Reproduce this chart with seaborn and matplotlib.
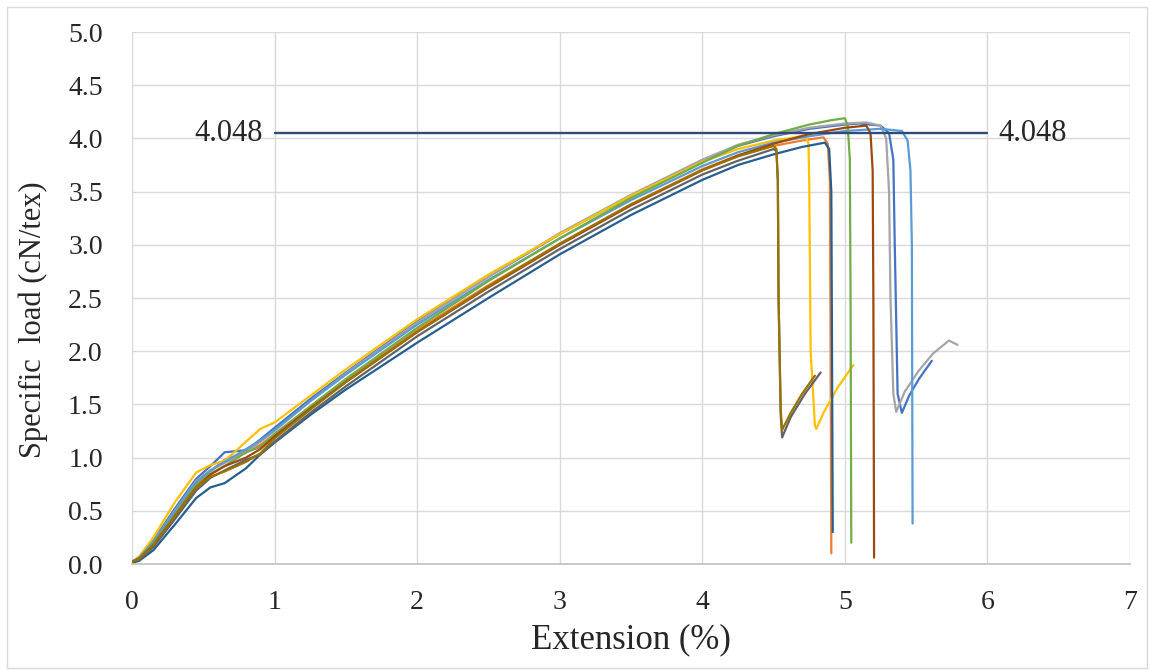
import pandas as pd
import matplotlib.pyplot as plt
import seaborn as sns
from matplotlib.patches import Rectangle

sns.set_style("white")
plt.rcParams["font.family"] = ["Liberation Serif", "DejaVu Serif"]

# Shared extension grid for the rising part of every curve (%)
grid_x = [0, 0.05, 0.15, 0.3, 0.45, 0.55, 0.65, 0.8, 0.9, 1.0, 1.25, 1.5,
          2.0, 2.5, 3.0, 3.5, 4.0, 4.25, 4.5]

# Rising part, specific load (cN/tex)
s1_rise = [0.02, 0.06, 0.22, 0.52, 0.80, 0.92, 1.05, 1.07, 1.17, 1.28, 1.55, 1.80,
           2.28, 2.70, 3.10, 3.46, 3.79, 3.93, 4.02]
s2_rise = [0.02, 0.05, 0.19, 0.47, 0.75, 0.87, 0.98, 1.05, 1.12, 1.22, 1.48, 1.73,
           2.20, 2.62, 3.01, 3.38, 3.71, 3.84, 3.93]
s3_rise = [0.02, 0.06, 0.21, 0.50, 0.78, 0.88, 0.95, 1.05, 1.15, 1.25, 1.53, 1.79,
           2.27, 2.70, 3.11, 3.47, 3.80, 3.94, 4.03]
s4_rise = [0.02, 0.07, 0.25, 0.58, 0.86, 0.93, 0.97, 1.15, 1.27, 1.33, 1.58, 1.83,
           2.30, 2.72, 3.10, 3.46, 3.78, 3.90, 3.98]
s5_rise = [0.02, 0.06, 0.21, 0.49, 0.77, 0.88, 0.96, 1.08, 1.16, 1.26, 1.53, 1.78,
           2.25, 2.67, 3.06, 3.42, 3.74, 3.87, 3.96]
s6_rise = [0.02, 0.05, 0.19, 0.46, 0.74, 0.85, 0.92, 1.05, 1.10, 1.22, 1.48, 1.74,
           2.22, 2.66, 3.06, 3.44, 3.77, 3.93, 4.04]
s7_rise = [0.01, 0.03, 0.13, 0.37, 0.62, 0.72, 0.76, 0.90, 1.03, 1.14, 1.40, 1.64,
           2.08, 2.50, 2.91, 3.28, 3.61, 3.75, 3.85]
s8_rise = [0.02, 0.05, 0.18, 0.45, 0.72, 0.84, 0.92, 1.00, 1.08, 1.20, 1.46, 1.71,
           2.18, 2.60, 3.00, 3.37, 3.70, 3.84, 3.95]
s9_rise = [0.02, 0.04, 0.16, 0.42, 0.69, 0.81, 0.88, 0.98, 1.03, 1.15, 1.42, 1.67,
           2.14, 2.56, 2.96, 3.33, 3.66, 3.79, 3.90]
s10_rise = [0.02, 0.05, 0.18, 0.45, 0.72, 0.82, 0.87, 0.96, 1.04, 1.18, 1.45, 1.71,
            2.18, 2.61, 3.01, 3.38, 3.70, 3.83, 3.93]

# Peak, break and recovery part of every curve
s1_tail_x = [4.75, 5.0, 5.1, 5.25, 5.31, 5.34, 5.35, 5.37, 5.40, 5.45, 5.52, 5.61]
s1_tail_y = [4.09, 4.13, 4.14, 4.12, 4.05, 3.80, 3.00, 1.60, 1.42, 1.58, 1.74, 1.91]
s2_tail_x = [4.7, 4.85, 4.88, 4.895, 4.90, 4.905]
s2_tail_y = [3.98, 4.01, 3.95, 3.60, 2.00, 0.10]
s3_tail_x = [4.75, 5.0, 5.15, 5.25, 5.29, 5.31, 5.32, 5.34, 5.36, 5.42, 5.52, 5.62, 5.73, 5.79]
s3_tail_y = [4.10, 4.14, 4.15, 4.12, 4.00, 3.50, 2.50, 1.60, 1.43, 1.62, 1.82, 1.98, 2.10, 2.06]
s4_tail_x = [4.65, 4.72, 4.745, 4.75, 4.76, 4.79, 4.80, 4.85, 4.95, 5.06]
s4_tail_y = [4.01, 4.03, 3.95, 3.60, 2.00, 1.30, 1.27, 1.42, 1.66, 1.87]
s5_tail_x = [4.75, 5.0, 5.25, 5.4, 5.44, 5.46, 5.47, 5.475]
s5_tail_y = [4.02, 4.07, 4.09, 4.07, 3.98, 3.70, 3.00, 0.38]
s6_tail_x = [4.75, 4.9, 5.0, 5.02, 5.035, 5.04, 5.045]
s6_tail_y = [4.13, 4.17, 4.19, 4.12, 3.80, 2.50, 0.20]
s7_tail_x = [4.7, 4.86, 4.89, 4.905, 4.91, 4.915]
s7_tail_y = [3.92, 3.96, 3.90, 3.50, 2.00, 0.30]
s8_tail_x = [4.75, 5.0, 5.15, 5.18, 5.195, 5.20, 5.205]
s8_tail_y = [4.04, 4.10, 4.12, 4.05, 3.70, 2.50, 0.06]
s9_tail_x = [4.52, 4.53, 4.535, 4.55, 4.56, 4.62, 4.72, 4.83]
s9_tail_y = [3.88, 3.60, 2.50, 1.40, 1.19, 1.38, 1.60, 1.80]
s10_tail_x = [4.52, 4.53, 4.535, 4.55, 4.56, 4.62, 4.70, 4.79]
s10_tail_y = [3.90, 3.60, 2.50, 1.45, 1.26, 1.42, 1.60, 1.77]

series_names = ["1", "2", "3", "4", "5", "6", "7", "8", "9", "10"]
series_colors = ["#4472C4", "#ED7D31", "#A5A5A5", "#FFC000", "#5B9BD5",
                 "#70AD47", "#255E91", "#9E480E", "#636363", "#997300"]

mean_load = 4.048
mean_x = [1, 6]

rises = [s1_rise, s2_rise, s3_rise, s4_rise, s5_rise, s6_rise, s7_rise, s8_rise, s9_rise, s10_rise]
tails_x = [s1_tail_x, s2_tail_x, s3_tail_x, s4_tail_x, s5_tail_x, s6_tail_x, s7_tail_x,
           s8_tail_x, s9_tail_x, s10_tail_x]
tails_y = [s1_tail_y, s2_tail_y, s3_tail_y, s4_tail_y, s5_tail_y, s6_tail_y, s7_tail_y,
           s8_tail_y, s9_tail_y, s10_tail_y]

frames = []
for name, rise, tx, ty in zip(series_names, rises, tails_x, tails_y):
    frames.append(pd.DataFrame({"x": grid_x + tx, "y": rise + ty, "series": name}))
df = pd.concat(frames, ignore_index=True)

fig = plt.figure(figsize=(11.5, 6.7), dpi=100)
ax = fig.add_axes([132 / 1150, 106 / 670, 998 / 1150, 532 / 670])

sns.lineplot(data=df, x="x", y="y", hue="series", palette=dict(zip(series_names, series_colors)),
             sort=False, estimator=None, legend=False, linewidth=1.6, ax=ax)

# mean line with labels on both ends
ax.plot(mean_x, [mean_load, mean_load], color="#2F4B7C", linewidth=1.7)
ax.text(mean_x[0] - 0.08, mean_load, f"{mean_load:.3f}", ha="right", va="center", fontsize=22)
ax.text(mean_x[1] + 0.08, mean_load, f"{mean_load:.3f}", ha="left", va="center", fontsize=22)

ax.set_xlim(0, 7)
ax.set_ylim(0, 5)
ax.set_xticks(range(0, 8))
ax.set_yticks([i * 0.5 for i in range(11)])
ax.set_yticklabels([f"{i * 0.5:.1f}" for i in range(11)])
ax.grid(True, color="#D9D9D9", linewidth=1)
ax.set_axisbelow(True)
for side in ["top", "right", "left"]:
    ax.spines[side].set_visible(False)
ax.spines["bottom"].set_color("#BFBFBF")
ax.spines["bottom"].set_linewidth(1.2)
ax.tick_params(axis="both", length=0, labelsize=20)
ax.tick_params(axis="x", pad=19)
ax.tick_params(axis="y", pad=21)

ax.set_xlabel("Extension (%)", fontsize=25, labelpad=6)
ax.set_ylabel("Specific  load (cN/tex)", fontsize=22)
ax.yaxis.set_label_coords(-0.084, 0.46)

# chart border as in the spreadsheet export
fig.patches.append(Rectangle((7 / 1150, 2 / 670), 1140 / 1150, 661 / 670, transform=fig.transFigure,
                             fill=False, edgecolor="#D9D9D9", linewidth=1))

fig.savefig("out.png", dpi=100)
